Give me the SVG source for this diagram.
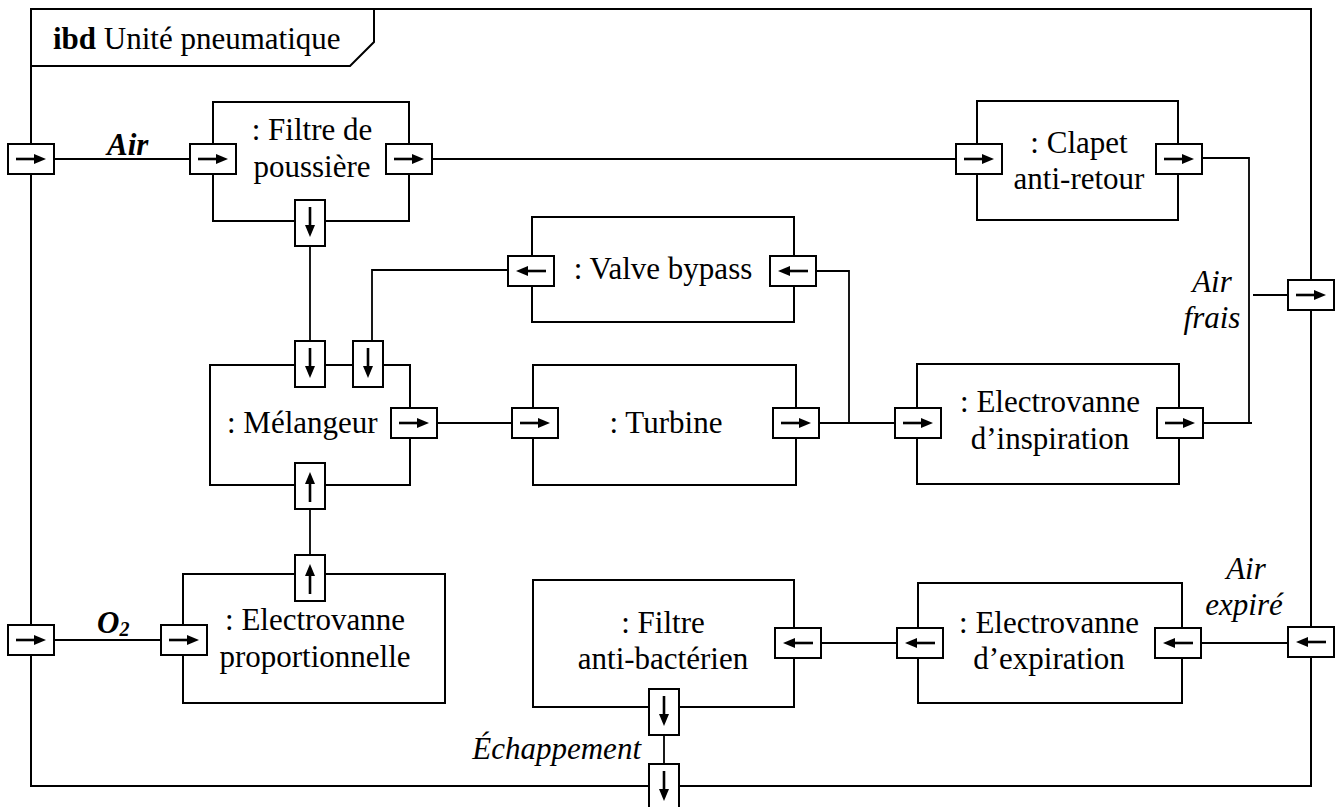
<svg xmlns="http://www.w3.org/2000/svg" xmlns:xlink="http://www.w3.org/1999/xlink" width="1342" height="807" viewBox="0 0 1342 807">
<style>
.frame{fill:none;stroke:#000;stroke-width:2}
.box{fill:#fff;stroke:#000;stroke-width:2}
.port{fill:#fff;stroke:#000;stroke-width:2}
.ar{stroke:#000;stroke-width:2.6;fill:none}
.ah{fill:#000;stroke:none}
.wire{fill:none;stroke:#000;stroke-width:1.8}
text{font-family:"Liberation Serif","Times New Roman",serif;font-size:31px;fill:#000}
.c{text-anchor:middle}
.it{font-style:italic}
.bi{font-style:italic;font-weight:bold}
</style>
<defs>
<g id="pR"><rect class="port" x="0" y="0" width="46" height="30"/><line class="ar" x1="8" y1="15" x2="28" y2="15"/><path class="ah" d="M26,10 L38,15 L26,20 Z"/></g>
<g id="pL"><rect class="port" x="0" y="0" width="46" height="30"/><line class="ar" x1="18" y1="15" x2="38" y2="15"/><path class="ah" d="M20,10 L8,15 L20,20 Z"/></g>
<g id="pD"><rect class="port" x="0" y="0" width="30" height="46"/><line class="ar" x1="15" y1="7" x2="15" y2="27"/><path class="ah" d="M10,25 L15,37 L20,25 Z"/></g>
<g id="pU"><rect class="port" x="0" y="0" width="30" height="46"/><line class="ar" x1="15" y1="19" x2="15" y2="39"/><path class="ah" d="M10,21 L15,9 L20,21 Z"/></g>
</defs>

<g id="frame">
<rect class="frame" x="31" y="9" width="1280" height="777"/>
<path class="frame" d="M31,66 L350,66 L374,42 L374,9"/>
<text x="53" y="49"><tspan font-weight="bold">ibd</tspan> Unité pneumatique</text>
</g>

<g id="connectors">
<path class="wire" d="M54,159 L190,159"/>
<path class="wire" d="M432,159 L956,159"/>
<path class="wire" d="M1202,158 L1249,158 L1249,423"/>
<path class="wire" d="M1203,423 L1252,423"/>
<path class="wire" d="M1253,295 L1288,295"/>
<path class="wire" d="M310,246 L310,341"/>
<path class="wire" d="M508,270 L372,270 L372,341"/>
<path class="wire" d="M816,271 L849,271 L849,424"/>
<path class="wire" d="M437,423 L512,423"/>
<path class="wire" d="M819,423 L895,423"/>
<path class="wire" d="M310,509 L310,555"/>
<path class="wire" d="M54,640 L161,640"/>
<path class="wire" d="M821,643 L897,643"/>
<path class="wire" d="M1201,643 L1288,643"/>
<path class="wire" d="M664,735 L664,764"/>
</g>

<g id="frame-ports">
<use xlink:href="#pR" x="8" y="144"/>
<use xlink:href="#pR" x="8" y="625"/>
<use xlink:href="#pR" x="1288" y="280"/>
<use xlink:href="#pL" x="1288" y="627"/>
<use xlink:href="#pD" x="649" y="764"/>
<text class="bi" x="107" y="155">Air</text>
<text class="bi" x="97" y="633">O<tspan font-size="20" dy="3">2</tspan></text>
<text class="it c" x="1212" y="292">Air</text>
<text class="it c" x="1212" y="328">frais</text>
<text class="it c" x="1246" y="579">Air</text>
<text class="it c" x="1244" y="615">expiré</text>
<text class="it" x="641" y="759" text-anchor="end">Échappement</text>
</g>

<g id="filtre-poussiere">
<rect class="box" x="213" y="102" width="196" height="119"/>
<use xlink:href="#pR" x="190" y="144"/>
<use xlink:href="#pR" x="386" y="144"/>
<use xlink:href="#pD" x="295" y="200"/>
<text class="c" x="312" y="140">: Filtre de</text>
<text class="c" x="312" y="177">poussière</text>
</g>

<g id="clapet">
<rect class="box" x="977" y="101" width="201" height="119"/>
<use xlink:href="#pR" x="956" y="144"/>
<use xlink:href="#pR" x="1156" y="144"/>
<text class="c" x="1079" y="153">: Clapet</text>
<text class="c" x="1079" y="189">anti-retour</text>
</g>

<g id="valve-bypass">
<rect class="box" x="532" y="217" width="262" height="105"/>
<use xlink:href="#pL" x="508" y="256"/>
<use xlink:href="#pL" x="770" y="256"/>
<text class="c" x="663" y="279">: Valve bypass</text>
</g>

<g id="melangeur">
<rect class="box" x="210" y="365" width="200" height="120"/>
<use xlink:href="#pD" x="295" y="341"/>
<use xlink:href="#pD" x="353" y="341"/>
<use xlink:href="#pR" x="391" y="408"/>
<use xlink:href="#pU" x="295" y="463"/>
<text x="227" y="433">: Mélangeur</text>
</g>

<g id="turbine">
<rect class="box" x="533" y="365" width="263" height="120"/>
<use xlink:href="#pR" x="512" y="408"/>
<use xlink:href="#pR" x="773" y="408"/>
<text class="c" x="666" y="433">: Turbine</text>
</g>

<g id="electrovanne-inspiration">
<rect class="box" x="917" y="364" width="262" height="120"/>
<use xlink:href="#pR" x="895" y="408"/>
<use xlink:href="#pR" x="1157" y="408"/>
<text class="c" x="1050" y="412">: Electrovanne</text>
<text class="c" x="1050" y="449">d’inspiration</text>
</g>

<g id="electrovanne-proportionnelle">
<rect class="box" x="183" y="574" width="262" height="129"/>
<use xlink:href="#pU" x="295" y="555"/>
<use xlink:href="#pR" x="161" y="625"/>
<text class="c" x="315" y="630">: Electrovanne</text>
<text class="c" x="315" y="667">proportionnelle</text>
</g>

<g id="filtre-antibacterien">
<rect class="box" x="533" y="580" width="261" height="127"/>
<use xlink:href="#pL" x="775" y="628"/>
<use xlink:href="#pD" x="649" y="689"/>
<text class="c" x="663" y="633">: Filtre</text>
<text class="c" x="663" y="669">anti-bactérien</text>
</g>

<g id="electrovanne-expiration">
<rect class="box" x="918" y="583" width="264" height="120"/>
<use xlink:href="#pL" x="897" y="628"/>
<use xlink:href="#pL" x="1155" y="628"/>
<text class="c" x="1049" y="633">: Electrovanne</text>
<text class="c" x="1049" y="669">d’expiration</text>
</g>
</svg>
